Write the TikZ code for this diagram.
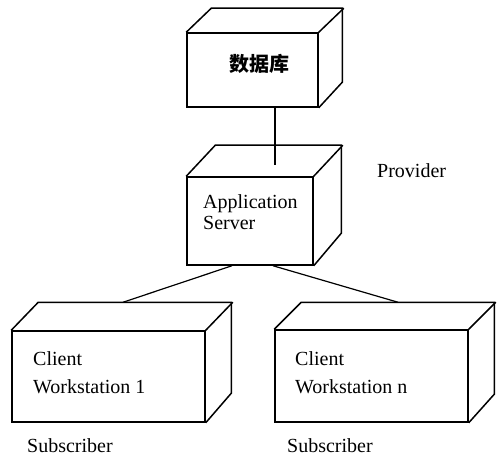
\documentclass[tikz,border=0pt]{standalone}
\usepackage{fontspec}
\setmainfont{Liberation Serif}
\newfontfamily\cjk{Noto Sans CJK SC}
\usetikzlibrary{calc}

\tikzset{
  front/.style={draw, line width=1.5pt, inner sep=0pt},
  faces/.style={line width=1.5pt},
  link/.style={line width=1.2pt},
  lbl/.style={inner sep=0pt, anchor=base west, font=\fontsize{20}{22}\selectfont}
}

\begin{document}
\begin{tikzpicture}[x=1pt,y=1pt]
\useasboundingbox (0,0) rectangle (500,458);
% front faces, then top and side faces
\foreach \nm/\cx/\cy/\w/\h/\dx/\dy in {db/252.5/388/131/74/25/24,
    app/250/237/126/88/29/31,
    wsa/108.5/81.5/193/91/27/28,
    wsb/371.5/82/193/92/27/27}
{
  \node[front, minimum width=\w, minimum height=\h] (\nm) at (\cx,\cy) {};
  \draw[faces] (\nm.north west) -- ++(\dx,\dy) -- ++(\w,0) -- ++(0,-\h)
     -- (\nm.south east);
  \draw[faces] (\nm.north east) -- ++(\dx,\dy);
}
% labels
\node[inner sep=0pt, font=\cjk\bfseries\fontsize{20}{22}\selectfont] (dbtxt) at (259,394) {数据库};
\node[lbl] (apptxt) at (203,249) {Application};
\node[lbl] (apptxtb) at (203,228) {Server};
\node[lbl] (prov) at (377,280) {Provider};
\node[lbl] (wsatxt) at (33,93) {Client};
\node[lbl] (wsatxtb) at (33,65) {Workstation 1};
\node[lbl] (suba) at (27,6) {Subscriber};
\node[lbl] (wsbtxt) at (295,93) {Client};
\node[lbl] (wsbtxtb) at (295,65) {Workstation n};
\node[lbl] (subb) at (287,6) {Subscriber};
% connectors
\draw[link] ($(db.south)+(22.5,0)$) -- ($(app.north)+(25,11)$);
\draw[link] ($(app.south)+(-18,0)$) -- ($(wsa.north)+(14.5,28)$);
\draw[link] ($(app.south)+(23,0)$) -- ($(wsb.north)+(26.5,27)$);
\end{tikzpicture}
\end{document}
